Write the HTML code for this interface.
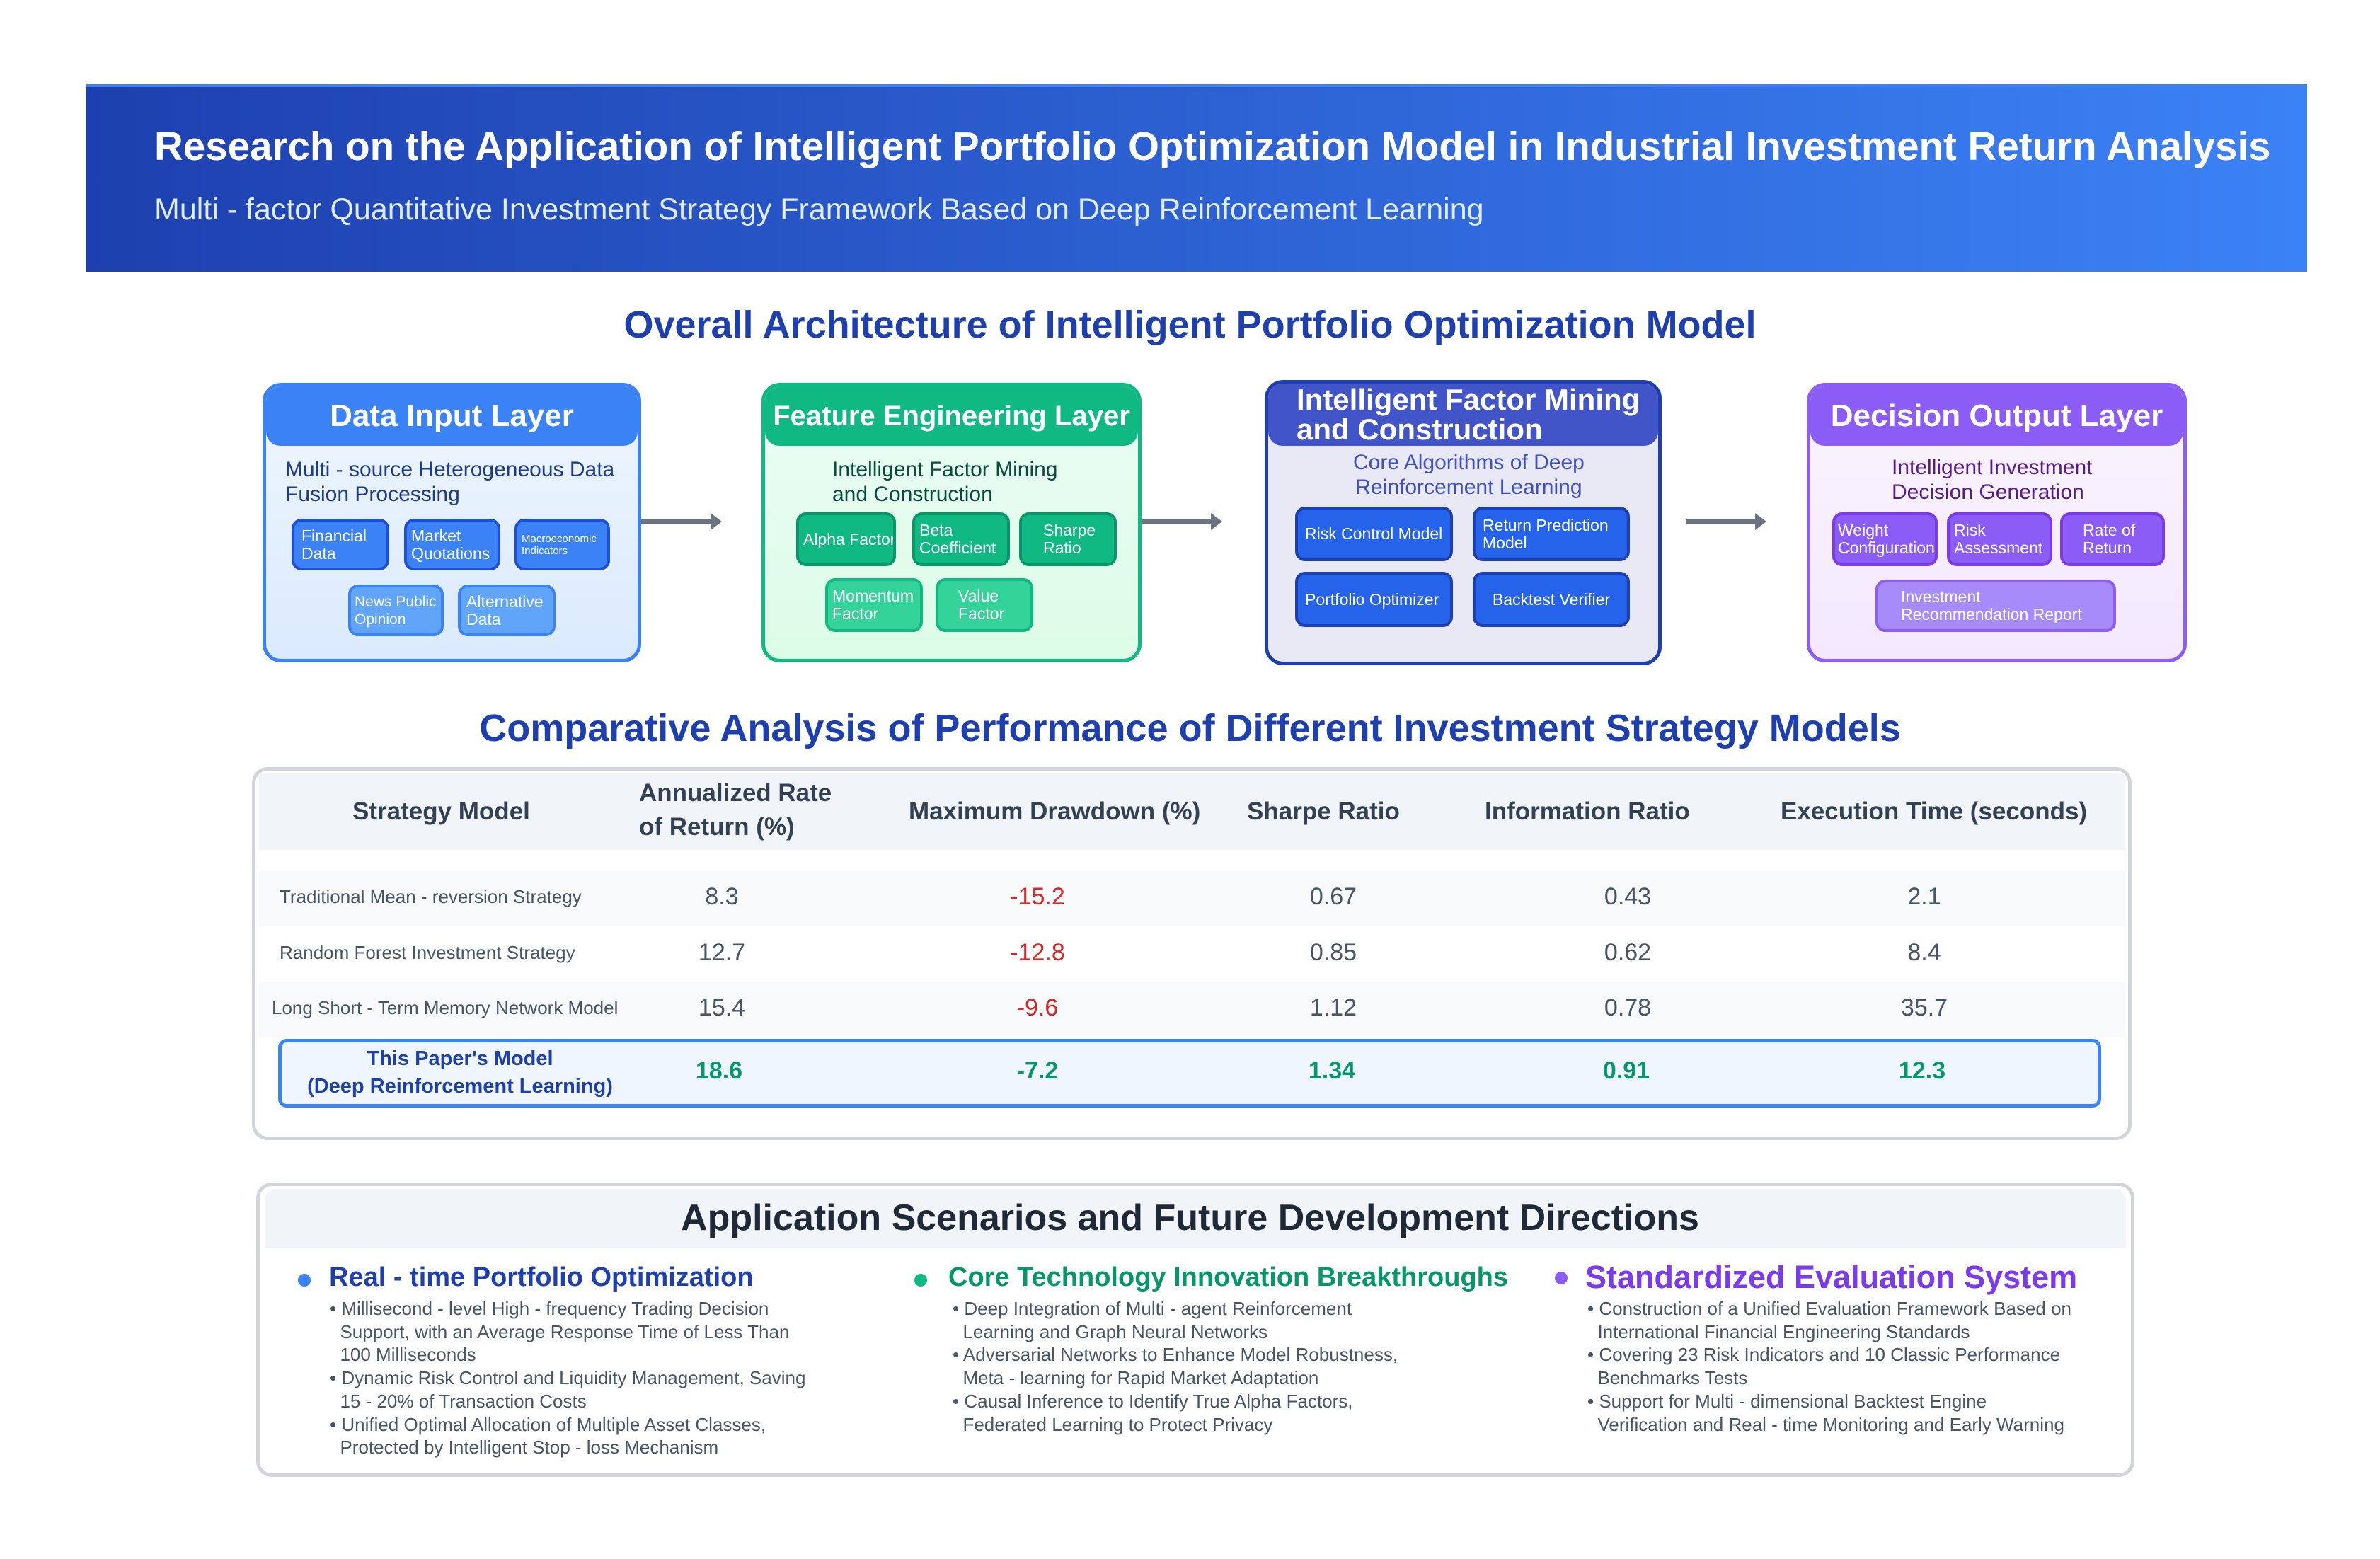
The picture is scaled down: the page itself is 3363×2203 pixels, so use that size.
<!DOCTYPE html>
<html><head><meta charset="utf-8">
<style>
*{box-sizing:border-box;margin:0;padding:0}
body{width:3363px;height:2203px;background:#fff;font-family:"Liberation Sans",sans-serif;position:relative;overflow:hidden}
.a{position:absolute}
.nw{white-space:nowrap}
.box{position:absolute;border-radius:26px;border:5px solid;overflow:hidden}
.bh{position:absolute;left:0;right:0;top:0;height:84px;color:#fff;font-weight:bold;font-size:44px;border-radius:0 0 20px 20px}
.sub{position:absolute;font-size:30px;line-height:35px}
.chip{position:absolute;border:4px solid;border-radius:14px;color:#fff;font-size:23px;line-height:25px;display:flex;align-items:center;padding:0 10px;white-space:nowrap;overflow:hidden}
.arrow{position:absolute;height:6px;background:#6b7280}
.arrow:after{content:"";position:absolute;right:-14px;top:-9px;border-left:16px solid #6b7280;border-top:12px solid transparent;border-bottom:12px solid transparent}
.sect{position:absolute;left:0;width:3363px;text-align:center;color:#1e40af;font-weight:bold;font-size:54px}
.th{position:absolute;font-weight:bold;font-size:35px;color:#334155;line-height:48px}
.cell{position:absolute;font-size:34px;color:#475569;text-align:center;width:300px}
.nm{position:absolute;font-size:26px;color:#475569;left:395px}
.bl{position:absolute;font-size:26px;line-height:32.7px;color:#475569}
.hd{position:absolute;font-weight:bold;font-size:38px}
.dot{position:absolute;width:18px;height:18px;border-radius:50%}
</style></head><body>
<div class="a" style="left:121px;top:119px;width:3139px;height:265px;background:linear-gradient(90deg,#1e40af,#3b82f6);border-top:4px solid #3b82f6"></div>
<div class="a nw" style="left:218px;top:174px;color:#fff;font-weight:bold;font-size:56.5px">Research on the Application of Intelligent Portfolio Optimization Model in Industrial Investment Return Analysis</div>
<div class="a nw" style="left:218px;top:272px;color:#e0ecff;font-size:43px">Multi - factor Quantitative Investment Strategy Framework Based on Deep Reinforcement Learning</div>

<div class="sect" style="top:428px">Overall Architecture of Intelligent Portfolio Optimization Model</div>

<!-- Box 1 -->
<div class="box" style="left:371px;top:541px;width:535px;height:395px;border-color:#3b82f6;background:linear-gradient(#eff6ff,#dbeafe)">
 <div class="bh" style="background:#3b82f6;text-align:center;line-height:84px">Data Input Layer</div>
 <div class="sub" style="left:27px;top:100px;color:#1e3a8a">Multi - source Heterogeneous Data<br>Fusion Processing</div>
</div>
<div class="chip" style="left:412px;top:733px;width:138px;height:73px;background:#3b82f6;border-color:#1d4ed8">Financial<br>Data</div>
<div class="chip" style="left:571px;top:733px;width:136px;height:73px;background:#3b82f6;border-color:#1d4ed8;padding:0 6px">Market<br>Quotations</div>
<div class="chip" style="left:727px;top:733px;width:135px;height:73px;background:#3b82f6;border-color:#1d4ed8;font-size:15px;line-height:17px;padding:0 6px">Macroeconomic<br>Indicators</div>
<div class="chip" style="left:492px;top:826px;width:135px;height:73px;background:#60a5fa;border-color:#3b82f6;font-size:21px;padding:0 5px">News Public<br>Opinion</div>
<div class="chip" style="left:647px;top:826px;width:138px;height:73px;background:#60a5fa;border-color:#3b82f6;padding:0 8px">Alternative<br>Data</div>
<div class="arrow" style="left:906px;top:734px;width:100px"></div>

<!-- Box 2 -->
<div class="box" style="left:1076px;top:541px;width:537px;height:395px;border-color:#10b981;background:linear-gradient(#ecfdf5,#dcfce7)">
 <div class="bh nw" style="background:#10b981;text-align:center;line-height:84px;font-size:40px">Feature Engineering Layer</div>
 <div class="sub" style="left:95px;top:100px;color:#064e3b">Intelligent Factor Mining<br>and Construction</div>
</div>
<div class="chip" style="left:1125px;top:724px;width:141px;height:76px;background:#10b981;border-color:#059669;padding:0 6px">Alpha Factor</div>
<div class="chip" style="left:1289px;top:724px;width:138px;height:76px;background:#10b981;border-color:#059669;padding:0 6px">Beta<br>Coefficient</div>
<div class="chip" style="left:1440px;top:724px;width:138px;height:76px;background:#10b981;border-color:#059669;padding-left:30px">Sharpe<br>Ratio</div>
<div class="chip" style="left:1166px;top:817px;width:138px;height:76px;background:#34d399;border-color:#10b981;padding:0 6px">Momentum<br>Factor</div>
<div class="chip" style="left:1322px;top:817px;width:138px;height:76px;background:#34d399;border-color:#10b981;padding-left:28px">Value<br>Factor</div>
<div class="arrow" style="left:1613px;top:734px;width:100px"></div>

<!-- Box 3 -->
<div class="box" style="left:1787px;top:537px;width:561px;height:403px;border-color:#1e40af;background:#e8e9f5">
 <div class="bh" style="background:#4154c8;height:88px;padding:0 0 0 40px;line-height:42px;font-size:42px;padding-top:2px">Intelligent Factor Mining<br>and Construction</div>
 <div class="sub" style="left:120px;top:94px;color:#3f4fc5;text-align:center">Core Algorithms of Deep<br>Reinforcement Learning</div>
</div>
<div class="chip" style="left:1830px;top:716px;width:223px;height:77px;background:#2563eb;border-color:#1e40af">Risk Control Model</div>
<div class="chip" style="left:2081px;top:716px;width:222px;height:77px;background:#2563eb;border-color:#1e40af">Return Prediction<br>Model</div>
<div class="chip" style="left:1830px;top:808px;width:223px;height:78px;background:#2563eb;border-color:#1e40af">Portfolio Optimizer</div>
<div class="chip" style="left:2081px;top:808px;width:222px;height:78px;background:#2563eb;border-color:#1e40af;justify-content:center">Backtest Verifier</div>
<div class="arrow" style="left:2382px;top:734px;width:100px"></div>

<!-- Box 4 -->
<div class="box" style="left:2553px;top:541px;width:537px;height:395px;border-color:#8b5cf6;background:linear-gradient(#faf5ff,#f3e8ff)">
 <div class="bh" style="background:#8b5cf6;text-align:center;line-height:84px">Decision Output Layer</div>
 <div class="sub" style="left:115px;top:97px;color:#581c87">Intelligent Investment<br>Decision Generation</div>
</div>
<div class="chip" style="left:2589px;top:724px;width:149px;height:76px;background:#8b5cf6;border-color:#7c3aed;padding:0 4px">Weight<br>Configuration</div>
<div class="chip" style="left:2751px;top:724px;width:149px;height:76px;background:#8b5cf6;border-color:#7c3aed;padding:0 6px">Risk<br>Assessment</div>
<div class="chip" style="left:2911px;top:724px;width:148px;height:76px;background:#8b5cf6;border-color:#7c3aed;padding-left:28px">Rate of<br>Return</div>
<div class="chip" style="left:2650px;top:819px;width:340px;height:74px;background:#a78bfa;border-color:#8b5cf6;padding-left:32px">Investment<br>Recommendation Report</div>

<!-- Table -->
<div class="sect" style="top:998px">Comparative Analysis of Performance of Different Investment Strategy Models</div>
<div class="a" style="left:356px;top:1084px;width:2656px;height:527px;border:5px solid #d1d5db;border-radius:22px"></div>
<div class="a" style="left:366px;top:1093px;width:2636px;height:108px;background:#f1f5f9"></div>
<div class="th nw" style="left:498px;top:1123px">Strategy Model</div>
<div class="th nw" style="left:903px;top:1097px">Annualized Rate<br>of Return (%)</div>
<div class="th nw" style="left:1284px;top:1123px">Maximum Drawdown (%)</div>
<div class="th nw" style="left:1762px;top:1123px">Sharpe Ratio</div>
<div class="th nw" style="left:2098px;top:1123px">Information Ratio</div>
<div class="th nw" style="left:2516px;top:1123px">Execution Time (seconds)</div>

<div class="a" style="left:366px;top:1231px;width:2636px;height:78px;background:#f8fafc"></div>
<div class="a" style="left:366px;top:1387px;width:2636px;height:78px;background:#f8fafc"></div>

<div class="nm nw" style="top:1252px">Traditional Mean - reversion Strategy</div>
<div class="cell" style="left:870px;top:1248px">8.3</div>
<div class="cell" style="left:1316px;top:1248px;color:#dc2626">-15.2</div>
<div class="cell" style="left:1734px;top:1248px">0.67</div>
<div class="cell" style="left:2150px;top:1248px">0.43</div>
<div class="cell" style="left:2569px;top:1248px">2.1</div>

<div class="nm nw" style="top:1331px">Random Forest Investment Strategy</div>
<div class="cell" style="left:870px;top:1327px">12.7</div>
<div class="cell" style="left:1316px;top:1327px;color:#dc2626">-12.8</div>
<div class="cell" style="left:1734px;top:1327px">0.85</div>
<div class="cell" style="left:2150px;top:1327px">0.62</div>
<div class="cell" style="left:2569px;top:1327px">8.4</div>

<div class="nm nw" style="top:1409px;left:384px">Long Short - Term Memory Network Model</div>
<div class="cell" style="left:870px;top:1405px">15.4</div>
<div class="cell" style="left:1316px;top:1405px;color:#dc2626">-9.6</div>
<div class="cell" style="left:1734px;top:1405px">1.12</div>
<div class="cell" style="left:2150px;top:1405px">0.78</div>
<div class="cell" style="left:2569px;top:1405px">35.7</div>

<div class="a" style="left:393px;top:1468px;width:2576px;height:97px;background:#eff6ff;border:5px solid #3b82f6;border-radius:12px"></div>
<div class="a nw" style="left:420px;top:1477px;width:460px;text-align:center;font-weight:bold;font-size:29px;line-height:39px;color:#1e40af">This Paper's Model<br>(Deep Reinforcement Learning)</div>
<div class="cell" style="left:866px;top:1494px;color:#059669;font-weight:bold">18.6</div>
<div class="cell" style="left:1316px;top:1494px;color:#059669;font-weight:bold">-7.2</div>
<div class="cell" style="left:1732px;top:1494px;color:#059669;font-weight:bold">1.34</div>
<div class="cell" style="left:2148px;top:1494px;color:#059669;font-weight:bold">0.91</div>
<div class="cell" style="left:2566px;top:1494px;color:#059669;font-weight:bold">12.3</div>

<!-- Bottom -->
<div class="a" style="left:362px;top:1671px;width:2654px;height:416px;border:5px solid #d1d5db;border-radius:22px"></div>
<div class="a" style="left:374px;top:1680px;width:2630px;height:84px;background:#f1f5f9;border-radius:16px 16px 0 0"></div>
<div class="a nw" style="left:0;width:3363px;text-align:center;top:1691px;font-size:52px;font-weight:bold;color:#1f2937">Application Scenarios and Future Development Directions</div>

<div class="dot" style="left:421px;top:1800px;background:#3b82f6"></div>
<div class="hd nw" style="left:465px;top:1784px;color:#1e40af">Real - time Portfolio Optimization</div>
<div class="bl nw" style="left:466px;top:1833px">• Millisecond - level High - frequency Trading Decision<br>&nbsp;&nbsp;Support, with an Average Response Time of Less Than<br>&nbsp;&nbsp;100 Milliseconds<br>• Dynamic Risk Control and Liquidity Management, Saving<br>&nbsp;&nbsp;15 - 20% of Transaction Costs<br>• Unified Optimal Allocation of Multiple Asset Classes,<br>&nbsp;&nbsp;Protected by Intelligent Stop - loss Mechanism</div>

<div class="dot" style="left:1292px;top:1800px;background:#10b981"></div>
<div class="hd nw" style="left:1340px;top:1784px;color:#059669">Core Technology Innovation Breakthroughs</div>
<div class="bl nw" style="left:1346px;top:1833px">• Deep Integration of Multi - agent Reinforcement<br>&nbsp;&nbsp;Learning and Graph Neural Networks<br>• Adversarial Networks to Enhance Model Robustness,<br>&nbsp;&nbsp;Meta - learning for Rapid Market Adaptation<br>• Causal Inference to Identify True Alpha Factors,<br>&nbsp;&nbsp;Federated Learning to Protect Privacy</div>

<div class="dot" style="left:2197px;top:1797px;background:#8b5cf6"></div>
<div class="hd nw" style="left:2240px;top:1779px;color:#7c3aed;font-size:45px">Standardized Evaluation System</div>
<div class="bl nw" style="left:2243px;top:1833px">• Construction of a Unified Evaluation Framework Based on<br>&nbsp;&nbsp;International Financial Engineering Standards<br>• Covering 23 Risk Indicators and 10 Classic Performance<br>&nbsp;&nbsp;Benchmarks Tests<br>• Support for Multi - dimensional Backtest Engine<br>&nbsp;&nbsp;Verification and Real - time Monitoring and Early Warning</div>
</body></html>
